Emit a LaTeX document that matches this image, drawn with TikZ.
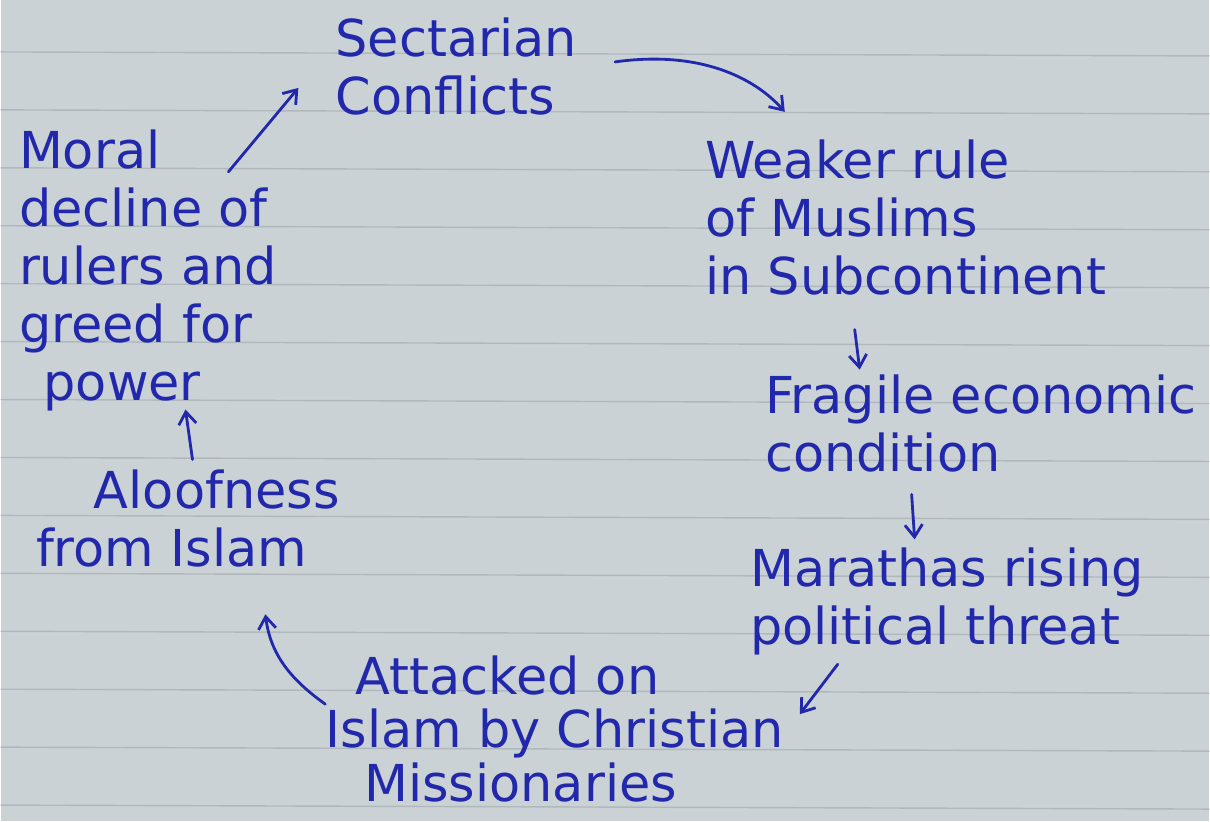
\documentclass[tikz,border=0pt]{standalone}
\usepackage{fontspec}
\setmainfont{DejaVu Sans}
\usetikzlibrary{arrows.meta,calc,positioning}
\definecolor{ink}{RGB}{34,40,172}
\definecolor{paper}{RGB}{203,210,213}
\definecolor{ruling}{RGB}{176,184,189}
\tikzset{
  idea/.style={text=ink, font=\fontsize{29}{33}\selectfont, align=left,
    inner sep=0pt, anchor=north west},
  link/.style={ink, line width=1.6pt, line cap=round,
    -{Straight Barb[length=7pt,width=10pt,line width=1.6pt]}},
}
\begin{document}
\begin{tikzpicture}[x=0.02cm,y=-0.02cm]
  % notebook page
  \fill[paper] (0,0) rectangle (1210,822);
  \foreach \y in {52,110,...,822}
    \draw[ruling, line width=0.8pt] (0,\y) -- (1210,\y+4);
  \useasboundingbox (0,0) rectangle (1210,822);

  \node[idea] (sect) at (335,18) {Sectarian\\Conflicts};
  \node[idea] (weak) at (705,140) {Weaker rule\\of Muslims\\in Subcontinent};
  \node[idea] (fragile) at (765,375) {Fragile economic\\condition};
  \node[idea] (maratha) at (750,548) {Marathas rising\\political threat};
  \node[idea, font=\fontsize{29}{30.5}\selectfont] (attack) at (325,656) {\hspace{17pt}Attacked on\\Islam by Christian\\\hspace{22pt}Missionaries};
  \node[idea] (aloof) at (35,470) {\hspace{33pt}Aloofness\\from Islam};
  \node[idea] (moral) at (18,130) {Moral\\decline of\\rulers and\\greed for\\\hspace{14pt}power};

  % the cycle
  \draw[link] ($(moral.north west)+(210,42)$) -- ($(sect.north west)+(-37,70)$);
  \draw[link] ($(sect.north west)+(280,44)$) .. controls +(85,-12) and +(-30,-34) .. ($(weak.north west)+(80,-28)$);
  \draw[link] ($(weak.north west)+(150,190)$) -- ($(fragile.north west)+(95,-5)$);
  \draw[link] ($(fragile.north west)+(147,120)$) -- ($(maratha.north west)+(165,-8)$);
  \draw[link] ($(maratha.north west)+(88,117)$) -- ($(attack.north west)+(475,59)$);
  \draw[link] ($(attack.north west)+(0,49)$) .. controls +(-35,-25) and +(5,40) .. ($(aloof.north west)+(230,145)$);
  \draw[link] ($(aloof.north west)+(157,-10)$) -- ($(moral.north west)+(167,280)$);
\end{tikzpicture}
\end{document}
